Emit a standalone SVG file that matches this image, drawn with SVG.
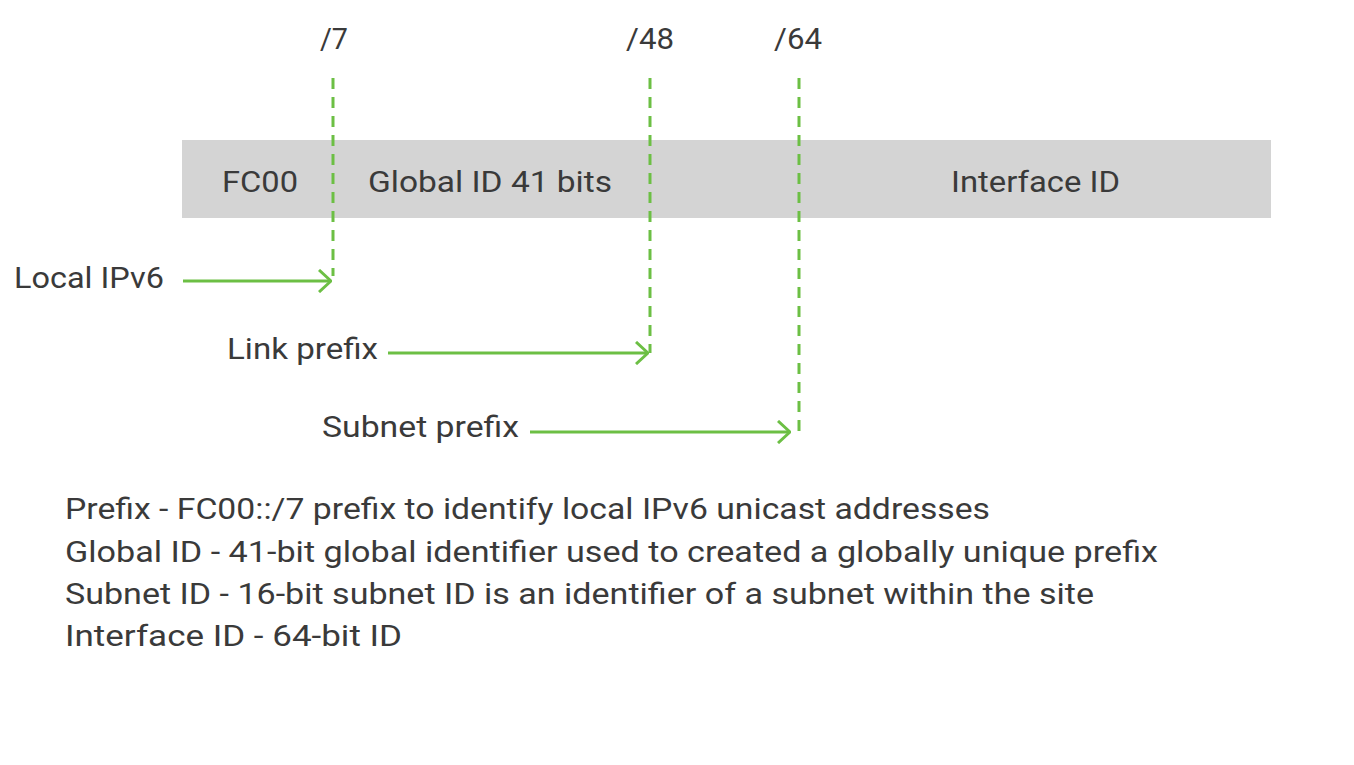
<svg xmlns="http://www.w3.org/2000/svg" width="1354" height="765" viewBox="0 0 1354 765">
<defs>
<style>
text{font-family:Roboto,"Liberation Sans",sans-serif;fill:#3a3a3a;font-size:30px}
.dash{stroke:#6cbf44;stroke-width:3;stroke-dasharray:11 8;fill:none}
.arr{stroke:#6cbf44;stroke-width:3;fill:none;marker-end:url(#ah)}
</style>
<marker id="ah" viewBox="0 0 14 24" refX="13" refY="12" markerWidth="14" markerHeight="24" markerUnits="userSpaceOnUse" orient="auto">
<path d="M1,1 L13,12 L1,23" fill="none" stroke="#6cbf44" stroke-width="3"/>
</marker>
</defs>
<rect width="1354" height="765" fill="#fff"/>
<g id="band">
<rect x="182" y="140" width="1089" height="78" fill="#d4d4d4"/>
<text x="222" y="192" textLength="76" lengthAdjust="spacingAndGlyphs">FC00</text>
<text x="368" y="192" textLength="244" lengthAdjust="spacingAndGlyphs">Global ID 41 bits</text>
<text x="951" y="192" textLength="169" lengthAdjust="spacingAndGlyphs">Interface ID</text>
</g>
<g id="marks">
<text x="320" y="49" textLength="28" lengthAdjust="spacingAndGlyphs">/7</text>
<text x="626" y="49" textLength="48" lengthAdjust="spacingAndGlyphs">/48</text>
<text x="774" y="49" textLength="48" lengthAdjust="spacingAndGlyphs">/64</text>
</g>
<g id="labels">
<text x="14" y="288" textLength="150" lengthAdjust="spacingAndGlyphs">Local IPv6</text>
<text x="227" y="359" textLength="151" lengthAdjust="spacingAndGlyphs">Link prefix</text>
<text x="322" y="437" textLength="197" lengthAdjust="spacingAndGlyphs">Subnet prefix</text>
</g>
<g id="connectors">
<line class="dash" x1="333" y1="78" x2="333" y2="276"/>
<line class="dash" x1="650" y1="78" x2="650" y2="353"/>
<line class="dash" x1="799" y1="78" x2="799" y2="432"/>
<line class="arr" x1="183" y1="281" x2="331" y2="281"/>
<line class="arr" x1="388" y1="353" x2="648" y2="353"/>
<line class="arr" x1="530" y1="432" x2="790" y2="432"/>
</g>
<g id="notes">
<text x="65" y="519" textLength="925" lengthAdjust="spacingAndGlyphs">Prefix - FC00::/7 prefix to identify local IPv6 unicast addresses</text>
<text x="65" y="562" textLength="1093" lengthAdjust="spacingAndGlyphs">Global ID - 41-bit global identifier used to created a globally unique prefix</text>
<text x="65" y="604" textLength="1029" lengthAdjust="spacingAndGlyphs">Subnet ID - 16-bit subnet ID is an identifier of a subnet within the site</text>
<text x="65" y="646" textLength="337" lengthAdjust="spacingAndGlyphs">Interface ID - 64-bit ID</text>
</g>
</svg>
